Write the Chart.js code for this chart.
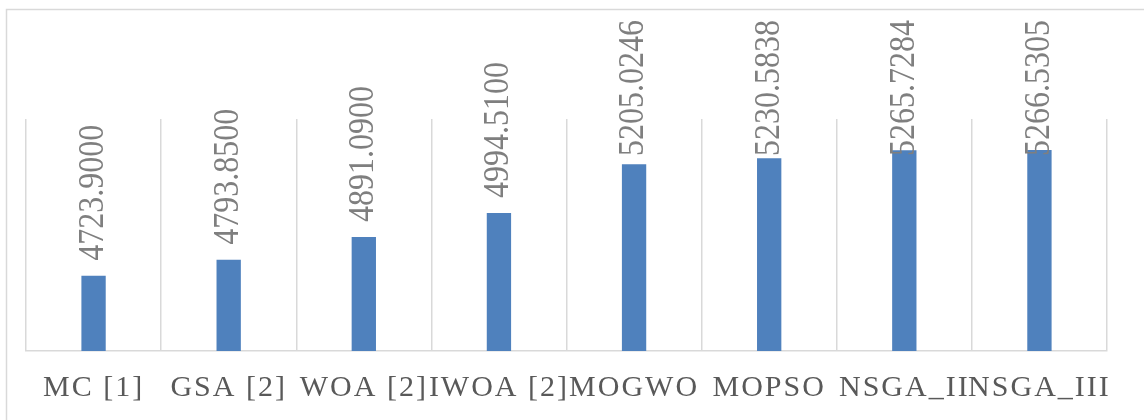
<!DOCTYPE html>
<html>
<head>
<meta charset="utf-8">
<script src="https://cdn.jsdelivr.net/npm/chart.js@4.4.1/dist/chart.umd.min.js"></script>
<style>
  html, body { margin: 0; padding: 0; background: #fff; }
  #wrap { position: relative; width: 1144px; height: 420px; }
</style>
</head>
<body>
<div id="wrap"><canvas id="chart" width="1144" height="420"></canvas></div>
<script>
// categories and values
const methods = ['MC [1]', 'GSA [2]', 'WOA [2]', 'IWOA [2]', 'MOGWO', 'MOPSO', 'NSGA_II', 'NSGA_III'];
const costs = [4723.9000, 4793.8500, 4891.0900, 4994.5100, 5205.0246, 5230.5838, 5265.7284, 5266.5305];
const axisMin = 4400;
const axisMax = 5400;

// outer frame + letter spacing for the category labels
const framePlugin = {
    id: 'frame',
    beforeDraw(chart) {
        const c = chart.ctx;
        c.save();
        c.strokeStyle = '#d9d9d9';
        c.lineWidth = 1.5;
        c.strokeRect(6.5, 9.5, 1300, 600);
        c.restore();
        c.letterSpacing = '2px';
    },
    beforeDatasetsDraw(chart) {
        chart.ctx.letterSpacing = '0px';
    }
};

// vertical value labels above each bar
const valueLabels = {
    id: 'valueLabels',
    afterDatasetsDraw(chart) {
        const c = chart.ctx;
        const meta = chart.getDatasetMeta(0);
        c.save();
        c.font = '32px "Liberation Serif", "Times New Roman", serif';
        c.fillStyle = '#7f7f7f';
        c.textAlign = 'left';
        c.textBaseline = 'middle';
        meta.data.forEach((bar, i) => {
            const txt = costs[i].toFixed(4);
            const w = c.measureText(txt).width;
            let base = bar.y - 15;
            if (base - w < 20) base = 20 + w;
            c.save();
            c.translate(bar.x, base);
            c.rotate(-Math.PI / 2);
            c.scale(1, 1.12);
            c.fillText(txt, 0, 0);
            c.restore();
        });
        c.restore();
    }
};

new Chart(document.getElementById('chart').getContext('2d'), {
    type: 'bar',
    data: {
        labels: methods,
        datasets: [{
            data: costs,
            backgroundColor: '#4f81bd',
            borderWidth: 0,
            categoryPercentage: 1,
            barPercentage: 0.18
        }]
    },
    options: {
        responsive: false,
        animation: false,
        layout: { padding: { left: 26, right: 37, top: 119, bottom: -5 } },
        plugins: {
            legend: { display: false },
            tooltip: { enabled: false }
        },
        scales: {
            y: {
                display: false,
                min: axisMin,
                max: axisMax
            },
            x: {
                grid: { color: '#d9d9d9', lineWidth: 1.5, drawTicks: false },
                border: { color: '#d9d9d9', width: 1.5 },
                ticks: {
                    color: '#595959',
                    font: { family: '"Liberation Serif", "Times New Roman", serif', size: 30, lineHeight: 1.0 },
                    padding: 22,
                    autoSkip: false,
                    maxRotation: 0,
                    minRotation: 0
                }
            }
        }
    },
    plugins: [framePlugin, valueLabels]
});
</script>
</body>
</html>
